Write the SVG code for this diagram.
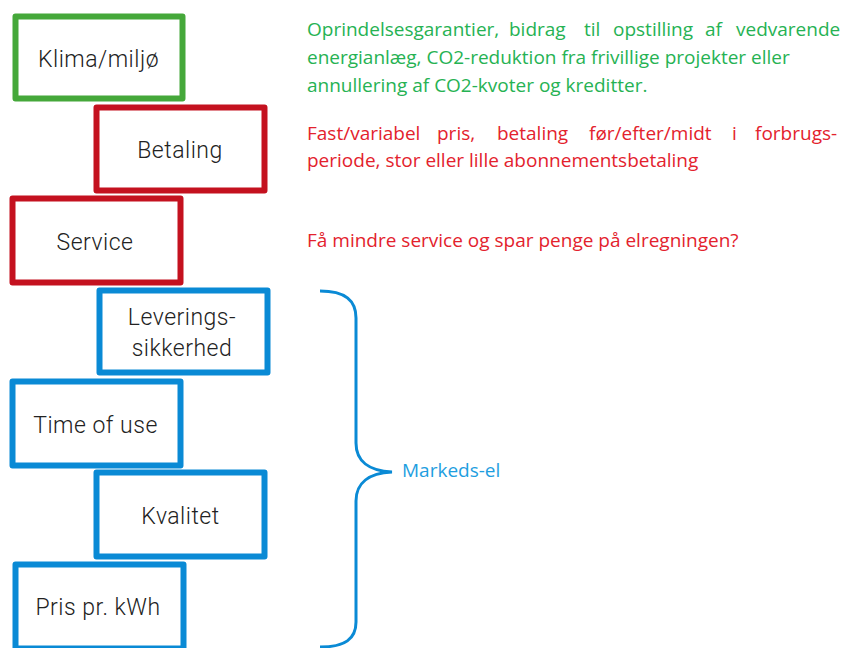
<svg xmlns="http://www.w3.org/2000/svg" width="842" height="648" viewBox="0 0 842 648">
<style>
.box{fill:#fff;stroke-width:6;stroke-linejoin:round}
.g{stroke:#45a83a}
.r{stroke:#c4111f}
.b{stroke:#0a8ad5}
.lbl{font-family:Roboto,"Liberation Sans",sans-serif;font-weight:300;font-size:23px;fill:#222;text-anchor:middle;letter-spacing:0.5px}
.desc{font-family:"Open Sans","Liberation Sans",sans-serif;font-size:19px}
.gt{fill:#26b253}
.rt{fill:#e3222d}
.bt{fill:#1e9ee0}
</style>
<rect width="842" height="648" fill="#fff"/>
<g id="klima"><rect class="box g" x="15.5" y="16.5" width="167" height="82"/><text class="lbl" x="98.5" y="67">Klima/miljø</text></g>
<g id="betaling"><rect class="box r" x="96.5" y="107.5" width="168" height="83"/><text class="lbl" x="180" y="158">Betaling</text></g>
<g id="service"><rect class="box r" x="12.5" y="198.5" width="168" height="84"/><text class="lbl" x="95" y="250">Service</text></g>
<g id="leverings"><rect class="box b" x="99.5" y="290.5" width="168" height="82"/><text class="lbl" x="182" y="325">Leverings-</text><text class="lbl" x="182" y="356">sikkerhed</text></g>
<g id="timeofuse"><rect class="box b" x="12.5" y="381.5" width="168" height="84"/><text class="lbl" x="95.5" y="433">Time of use</text></g>
<g id="kvalitet"><rect class="box b" x="96.5" y="472.5" width="168" height="84"/><text class="lbl" x="180.5" y="524">Kvalitet</text></g>
<g id="pris"><rect class="box b" x="15.5" y="564.5" width="168" height="84"/><text class="lbl" x="98" y="615">Pris pr. kWh</text></g>
<g id="texts">
<text class="desc gt" y="36"><tspan x="307">Oprindelsesgarantier,</tspan><tspan x="509">bidrag</tspan><tspan x="584">til</tspan><tspan x="613">opstilling</tspan><tspan x="705">af</tspan><tspan x="736">vedvarende</tspan></text>
<text class="desc gt" x="307" y="64">energianlæg, CO2-reduktion fra frivillige projekter eller</text>
<text class="desc gt" x="307" y="92">annullering af CO2-kvoter og kreditter.</text>
<text class="desc rt" y="140"><tspan x="307">Fast/variabel</tspan><tspan x="437">pris,</tspan><tspan x="497">betaling</tspan><tspan x="589">før/efter/midt</tspan><tspan x="732">i</tspan><tspan x="755">forbrugs-</tspan></text>
<text class="desc rt" x="307" y="166.5">periode, stor eller lille abonnementsbetaling</text>
<text class="desc rt" x="307" y="246.5">Få mindre service og spar penge på elregningen?</text>
<text class="desc bt" x="402" y="476.5">Markeds-el</text>
</g>
<g id="connectors">
<path d="M320,291 C345,291 356,300 356,318 L356,443 C356,461 369,471 392,472 C369,473 356,483 356,501 L356,622 C356,639 345,647 320,647" fill="none" stroke="#0a8ad5" stroke-width="3"/>
</g>
</svg>
